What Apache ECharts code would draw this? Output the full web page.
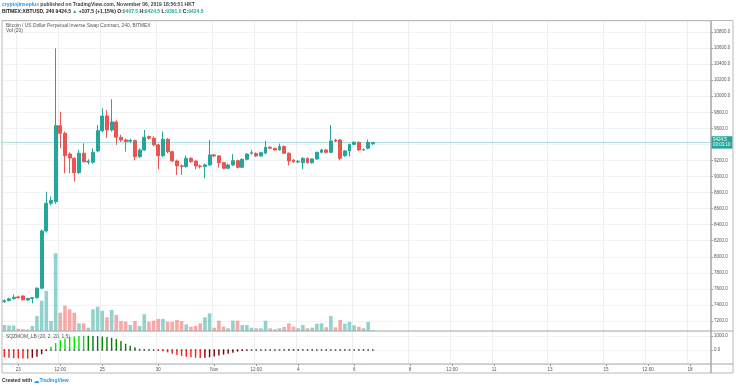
<!DOCTYPE html>
<html><head><meta charset="utf-8">
<script src="https://cdn.jsdelivr.net/npm/echarts@6/dist/echarts.min.js"></script>
<style>html,body{margin:0;padding:0;background:#fff;}#c{width:736px;height:387px;}</style>
</head><body><div id="c"></div>
<script>
// ---- data (4h candles, BITMEX:XBTUSD) ----
const openP  = [7440,7455,7478,7500,7512,7462,7480,7490,7608,8322,8667,8687,9633,9538,9280,9227,9048,9290,9180,9178,
                9318,9570,9754,9580,9679,9489,9455,9440,9447,9247,9330,9497,9477,9394,9260,9464,9309,9194,9132,9123,
                9227,9193,9131,9125,9144,9269,9256,9172,9102,9144,9197,9115,9214,9288,9288,9256,9290,9365,9352,9331,
                9373,9290,9205,9180,9172,9227,9172,9218,9301,9331,9301,9455,9455,9260,9318,9400,9426,9331,9352,9407.5];
const closeP = [7452,7475,7496,7490,7465,7480,7490,7608,8322,8667,8700,9633,9538,9260,9230,9048,9290,9185,9190,9303,
                9570,9754,9580,9680,9489,9455,9435,9450,9247,9330,9489,9477,9394,9260,9464,9309,9194,9132,9124,9227,
                9185,9131,9123,9144,9269,9256,9172,9102,9144,9197,9115,9214,9280,9297,9256,9297,9365,9352,9331,9373,
                9290,9193,9185,9190,9227,9172,9218,9301,9331,9301,9443,9443,9227,9318,9400,9426,9331,9335,9426,9424.5];
const highP  = [7470,7490,7530,7515,7520,7490,7500,7620,8340,8811,8750,10597,9807,9560,9300,9240,9330,9414,9215,9350,
                9642,9850,9830,9962,9700,9520,9470,9470,9460,9350,9580,9510,9500,9410,9560,9480,9320,9210,9150,9260,
                9240,9200,9150,9160,9455,9280,9265,9180,9160,9280,9210,9225,9290,9330,9300,9310,9443,9375,9360,9410,
                9385,9300,9215,9205,9240,9235,9225,9310,9345,9340,9642,9470,9465,9330,9410,9440,9435,9350,9460,9424.5];
const lowP   = [7425,7445,7465,7480,7455,7450,7420,7480,7595,8300,8640,8660,9352,9040,9040,8936,9030,9170,9150,9160,
                9300,9550,9480,9560,9394,9430,9310,9420,9200,9230,9320,9460,9380,9090,9240,9290,9180,9020,9020,9110,
                9170,9090,9100,8978,9130,9240,9110,9090,9090,9130,9100,9105,9200,9275,9245,9245,9280,9340,9320,9325,
                9280,9140,9170,9165,9090,9160,9160,9210,9290,9290,9290,9430,9200,9245,9250,9390,9320,9320,9340,9391];
const volume = [60,55,55,23,20,15,50,150,303,400,100,777,183,253,217,183,77,77,33,217,
                243,203,137,210,160,100,93,60,100,50,167,93,103,120,120,93,93,110,100,67,
                43,50,77,137,177,33,103,43,27,103,103,60,60,33,27,27,103,27,17,27,
                40,77,43,27,60,27,33,73,77,37,150,37,110,73,90,57,43,27,90,8];
const sqzMom = [-520,-560,-580,-600,-610,-620,-560,-480,-300,-60,
                240,500,700,830,920,970,1000,1020,1010,1000,
                990,960,920,870,780,650,450,300,200,80,
                30,10,-10,-40,-90,-170,-260,-350,-420,-480,
                -520,-550,-575,-560,-520,-470,-400,-330,-260,-190,
                -120,-70,-30,-10,10,20,40,60,70,80,
                85,70,50,35,25,15,10,20,25,20,
                30,35,25,20,25,30,25,20,25,30];
const sqzDots = [0,0,0,0,0,0,0,0,0,0,0,0,0,0,0,0,0,0,0,0,0,0,0,0,0,0,0,0,0,0,0,0,0,0,0,0,0,0,0,0,
                 0,0,0,0,0,0,0,0,0,0,0,0,0,0,0,0,0,0,0,0,0,0,0,0,0,0,0,0,0,0,0,0,0,0,0,0,0,0,0,0];
const slotCount = 152;
const xTickIdx  = [3,12,21,33,45,54,63,75,87,96,105,117,129,138,147];
const xTickText = ['23','12:00','25','30','Nov','12:00','4','6','8','12:00','11','13','15','12:00','18'];
const lastPrice = 9424.5;
const countdown = '03:03:10';

// ---- chart ----
const UP = '#26a69a', DOWN = '#ef5350';
const FONT = 'Liberation Sans';
const slots = Array.from({length: slotCount}, (_, i) => String(i));
const isTick = (i) => xTickIdx.indexOf(i) >= 0;
const candleData = openP.map((o, i) => [o, closeP[i], lowP[i], highP[i]]);
const L = 2, R = 25;

function xAxisFor(gi, showLabels) {
  return {
    type: 'category', gridIndex: gi, data: slots, boundaryGap: true, position: 'bottom',
    axisLine: {show: false, onZero: false},
    axisTick: showLabels ? {show: true, alignWithLabel: true, interval: (i) => isTick(i), length: 2, lineStyle: {color: '#999'}} : {show: false},
    axisLabel: showLabels ? {show: true, interval: (i) => isTick(i), formatter: (v, i) => xTickText[xTickIdx.indexOf(Number(v))] || '',
      fontSize: 4.6, color: '#555', margin: 3, fontFamily: FONT} : {show: false},
    splitLine: {show: true, interval: (i) => isTick(i), lineStyle: {color: '#eceef1', width: 1}}
  };
}

const chart = echarts.init(document.getElementById('c'), null, {renderer: 'canvas'});
chart.setOption({
  animation: false,
  backgroundColor: '#fff',
  textStyle: {fontFamily: FONT},
  title: [
    {left: 2, top: 2.4, padding: 0, text: '{u|cryptojinseplus}{t| published on TradingView.com, November 06, 2019 18:56:51 HKT}',
      textStyle: {fontSize: 5, lineHeight: 5, rich: {u: {color: '#2196f3', fontSize: 5, lineHeight: 5, fontFamily: FONT}, t: {color: '#444', fontSize: 5, lineHeight: 5, fontFamily: FONT}}}},
    {left: 2, top: 9, padding: 0,
      text: '{b|BITMEX:XBTUSD, 240}{d| ' + lastPrice + ' }{g|▲}{d| +107.5 (+1.15%) O:}{g|9407.5}{d| H:}{g|9424.5}{d| L:}{g|9391.0}{d| C:}{g|9424.5}',
      textStyle: {fontSize: 5, lineHeight: 5, rich: {
        b: {color: '#222', fontSize: 5, lineHeight: 5, fontWeight: 'bold', fontFamily: FONT},
        d: {color: '#222', fontSize: 5, lineHeight: 5, fontFamily: FONT},
        g: {color: UP, fontSize: 5, lineHeight: 5, fontFamily: FONT}}}},
    {left: 6, top: 22.8, padding: 0, text: 'Bitcoin / US Dollar Perpetual Inverse Swap Contract, 240, BITMEX',
      textStyle: {color: '#555', fontSize: 4.9, lineHeight: 5, fontWeight: 'normal', fontFamily: FONT}},
    {left: 6, top: 28, padding: 0, text: 'Vol (20)', textStyle: {color: '#555', fontSize: 4.9, lineHeight: 5, fontWeight: 'normal', fontFamily: FONT}},
    {left: 6, top: 334.6, padding: 0, text: 'SQZMOM_LB (20, 2, 20, 1.5)', textStyle: {color: '#555', fontSize: 4.9, lineHeight: 5, fontWeight: 'normal', fontFamily: FONT}},
    {left: 2, top: 378.5, padding: 0, text: '{d|Created with }{l|☁}{b|TradingView}',
      textStyle: {fontSize: 5, lineHeight: 5, rich: {d: {color: '#333', fontSize: 5, lineHeight: 5, fontWeight: 'bold', fontFamily: FONT}, l: {color: '#2196f3', fontSize: 6, lineHeight: 5, fontFamily: 'DejaVu Sans'}, b: {color: '#2196f3', fontSize: 5, lineHeight: 5, fontFamily: FONT}}}}
  ],
  grid: [
    {left: L, right: R, top: 21, height: 300},
    {left: L, right: R, top: 241, height: 90},
    {left: L, right: R, top: 331, height: 33}
  ],
  xAxis: [xAxisFor(0, false), xAxisFor(1, false), xAxisFor(2, true)],
  yAxis: [
    {type: 'value', gridIndex: 0, position: 'right', min: 7200, max: 10937, interval: 200, scale: true,
      axisLine: {show: false}, axisTick: {show: true, length: 2, lineStyle: {color: '#999'}},
      axisLabel: {fontSize: 4.5, color: '#555', margin: 3, fontFamily: FONT, showMaxLabel: false,
        formatter: (v) => (Math.round(v) % 200 === 0 ? v.toFixed(1) : '')},
      splitLine: {show: true, lineStyle: {color: '#f1f2f4', width: 1}}},
    {type: 'value', gridIndex: 1, min: 0, max: 900, show: false, splitLine: {show: false}},
    {type: 'value', gridIndex: 2, position: 'right', min: -1000, max: 1357, interval: 1000,
      axisLine: {show: false}, axisTick: {show: true, length: 2, lineStyle: {color: '#999'}},
      axisLabel: {fontSize: 4.5, color: '#555', margin: 3, fontFamily: FONT, showMaxLabel: false, showMinLabel: false,
        formatter: (v) => (v === 0 || v === 1000 ? v.toFixed(1) : '')},
      splitLine: {show: true, lineStyle: {color: '#f1f2f4', width: 1}}}
  ],
  series: [
    {type: 'bar', name: 'Vol', xAxisIndex: 1, yAxisIndex: 1, data: volume, barWidth: 3.6, z: 1,
      itemStyle: {color: (p) => closeP[p.dataIndex] >= openP[p.dataIndex] ? 'rgba(38,166,154,0.5)' : 'rgba(239,83,80,0.5)'}},
    {type: 'candlestick', name: 'XBTUSD', xAxisIndex: 0, yAxisIndex: 0, data: candleData, barWidth: 3.4, z: 3,
      itemStyle: {color: UP, color0: DOWN, borderColor: UP, borderColor0: DOWN, borderWidth: 1},
      markLine: {symbol: 'none', silent: true, animation: false,
        lineStyle: {color: 'rgba(38,166,154,0.35)', width: 1, type: 'solid'},
        label: {show: true, position: 'end', distance: 0, formatter: '{c}\n' + countdown,
          backgroundColor: UP, color: '#fff', fontSize: 4.5, lineHeight: 5.6, padding: [0.6, 2, 0.6, 2], fontFamily: FONT},
        data: [{yAxis: lastPrice}]}},
    {type: 'scatter', name: 'sqzdots', xAxisIndex: 2, yAxisIndex: 2, data: sqzDots, symbolSize: 1.8, z: 2,
      itemStyle: {color: '#333'}},
    {type: 'bar', name: 'SQZMOM', xAxisIndex: 2, yAxisIndex: 2, data: sqzMom, barWidth: 1.4, z: 3,
      itemStyle: {color: (p) => {
        const i = p.dataIndex, v = sqzMom[i], pv = i > 0 ? sqzMom[i - 1] : 0;
        if (v >= 0) return v > pv ? '#00e600' : '#008000';
        return v < pv ? '#ff1a1a' : '#800000';
      }}}
  ],
  graphic: [
    {type: 'rect', shape: {x: 2, y: 20.5, width: 731, height: 352.5}, style: {fill: 'none', stroke: '#b9b9b9', lineWidth: 1}, silent: true, z: 10},
    {type: 'line', shape: {x1: 711, y1: 21, x2: 711, y2: 373}, style: {stroke: '#a8a8a8', lineWidth: 1.5}, silent: true, z: 10},
    {type: 'line', shape: {x1: 2, y1: 331, x2: 733, y2: 331}, style: {stroke: '#a8a8a8', lineWidth: 1}, silent: true, z: 10},
    {type: 'line', shape: {x1: 2, y1: 364, x2: 733, y2: 364}, style: {stroke: '#a8a8a8', lineWidth: 1}, silent: true, z: 10}
  ]
});
</script>
</body></html>
